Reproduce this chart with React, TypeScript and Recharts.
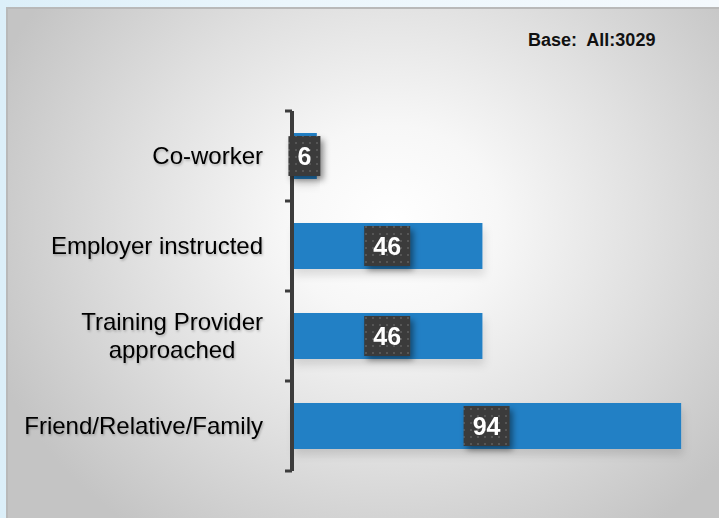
import { BarChart, Bar, XAxis, YAxis, LabelList } from "recharts";

const categories = ["Co-worker", "Employer instructed", "Training Provider\napproached", "Friend/Relative/Family"];
const values = [6, 46, 46, 94];
const baseNote = "Base:  All:3029";

const data = categories.map((name, i) => ({ name, value: values[i] }));

const LABEL_FONT = "'Liberation Sans', Arial, sans-serif";
const TICK_MARGIN = 29;
const AXIS_COLOR = "#3c3c3c";

let ctx: CanvasRenderingContext2D | null = null;
const measure = (s: string, font: string) => {
  if (!ctx) ctx = document.createElement("canvas").getContext("2d");
  if (!ctx) return s.length * 11;
  ctx.font = font;
  return ctx.measureText(s).width;
};

// category label plus the boundary tick marks between bands
const CategoryTick = (props: any) => {
  const { x, y, payload, index, visibleTicksCount } = props;
  const lines = String(payload.value).split("\n");
  const half = payload.offset || 0;
  const axisX = x + TICK_MARGIN;
  const common = {
    fontFamily: LABEL_FONT,
    fontSize: 24,
    fill: "#000",
    filter: "url(#txtShadow)",
  };
  const marks = [y - half];
  if (index === visibleTicksCount - 1) marks.push(y + half);
  const tickMarks = marks.map((my, i) => (
    <line key={i} x1={axisX - 7} x2={axisX} y1={my} y2={my} stroke={AXIS_COLOR} strokeWidth={3} />
  ));
  if (lines.length === 1) {
    return (
      <g>
        {tickMarks}
        <text x={x} y={y + 8} textAnchor="end" {...common}>
          {lines[0]}
        </text>
      </g>
    );
  }
  const maxW = Math.max(...lines.map((l) => measure(l, `24px ${LABEL_FONT}`)));
  const cx = x - maxW / 2;
  const lh = 28;
  const start = y + 8 - ((lines.length - 1) * lh) / 2;
  return (
    <g>
      {tickMarks}
      <text textAnchor="middle" {...common}>
        {lines.map((l, i) => (
          <tspan key={i} x={cx} y={start + i * lh}>
            {l}
          </tspan>
        ))}
      </text>
    </g>
  );
};

const ValueBadge = (props: any) => {
  const { x, y, width, height, value } = props;
  const digits = String(value).length;
  const w = digits * 14 + 18;
  const h = 40;
  const cx = x + width / 2;
  const cy = y + height / 2;
  return (
    <g filter="url(#badgeShadow)">
      <rect x={cx - w / 2} y={cy - h / 2} width={w} height={h} fill="url(#dots)" />
      <text
        x={cx}
        y={cy + 9}
        textAnchor="middle"
        fontFamily={LABEL_FONT}
        fontWeight="bold"
        fontSize={25}
        fill="#fff"
      >
        {value}
      </text>
    </g>
  );
};

export default function App() {
  return (
    <div
      style={{
        position: "fixed",
        left: 0,
        top: 0,
        width: 719,
        height: 518,
        overflow: "hidden",
        background: "linear-gradient(90deg, #dceff9 0%, #ebf6fc 40%, #f4f9fd 100%)",
      }}
    >
      <div
        style={{
          position: "absolute",
          left: 6,
          top: 7,
          width: 713,
          height: 511,
          background:
            "radial-gradient(ellipse 60% 75% at 54% 42%, #ffffff 0%, #f7f7f7 25%, #e0e0e0 60%, #c4c4c4 100%)",
          boxShadow: "inset 2px 2px 0 #b9b9b9",
        }}
      >
        <div
          style={{
            position: "absolute",
            left: 522,
            top: 23,
            fontFamily: LABEL_FONT,
            fontWeight: "bold",
            fontSize: 18,
            color: "#111",
            whiteSpace: "pre",
          }}
        >
          {baseNote}
        </div>
        <BarChart
          width={713}
          height={511}
          data={data}
          layout="vertical"
          margin={{ top: 104, right: 13, bottom: 47, left: 0 }}
          style={{ position: "absolute", left: 0, top: 0 }}
        >
          <defs>
            <pattern id="dots" patternUnits="userSpaceOnUse" width="7" height="7">
              <rect width="7" height="7" fill="#3a3a3a" />
              <rect x="2" y="2" width="2" height="2" fill="#565656" />
            </pattern>
            <filter id="badgeShadow" x="-50%" y="-50%" width="200%" height="200%">
              <feDropShadow dx="3" dy="4" stdDeviation="3" floodColor="#000" floodOpacity="0.45" />
            </filter>
            <filter id="barShadow" x="-10%" y="-30%" width="120%" height="180%">
              <feDropShadow dx="2" dy="6" stdDeviation="4" floodColor="#000" floodOpacity="0.12" />
            </filter>
            <filter id="txtShadow" x="-10%" y="-30%" width="120%" height="180%">
              <feDropShadow dx="1" dy="1.5" stdDeviation="1" floodColor="#000" floodOpacity="0.25" />
            </filter>
          </defs>
          <XAxis type="number" domain={[0, 100]} hide />
          <YAxis
            type="category"
            dataKey="name"
            width={286}
            axisLine={{ stroke: AXIS_COLOR, strokeWidth: 4 }}
            tickLine={false}
            tickSize={0}
            tickMargin={TICK_MARGIN}
            interval={0}
            tick={<CategoryTick />}
          />
          <Bar
            dataKey="value"
            fill="#2480c5"
            barSize={46}
            filter="url(#barShadow)"
            isAnimationActive={false}
          >
            <LabelList dataKey="value" content={<ValueBadge />} />
          </Bar>
        </BarChart>
      </div>
    </div>
  );
}
